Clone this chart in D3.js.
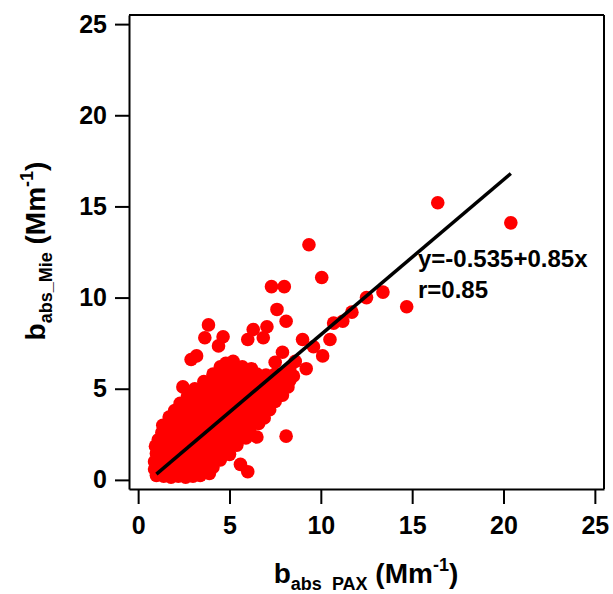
<!DOCTYPE html>
<html>
<head>
<meta charset="utf-8">
<script src="https://cdn.jsdelivr.net/npm/d3@7"></script>
<style>
  body { margin: 0; background: #fff; }
  svg text { font-family: "Liberation Sans", Arial, sans-serif; font-weight: bold; fill: #000; }
</style>
</head>
<body>
<div id="chart"></div>
<script>
// dense cloud of points (b_abs PAX, b_abs Mie)
var cloudPoints = [
    [1.0,0.25],[1.4,0.2],[1.8,0.15],[2.2,0.2],[2.6,0.15],[3.0,0.2],[3.4,0.25],[3.9,0.35],
    [0.9,0.6],[1.3,0.55],[1.7,0.65],[2.1,0.6],[2.5,0.55],[2.9,0.65],[3.3,0.6],[3.7,0.6],[4.1,0.7],
    [0.9,1.0],[1.3,1.05],[1.7,0.95],[2.1,1.0],[2.5,1.05],[2.9,0.95],[3.3,1.0],[3.7,1.05],[4.1,1.0],[4.5,1.1],
    [1.0,1.45],[1.4,1.4],[1.8,1.35],[2.2,1.45],[2.6,1.4],[3.0,1.35],[3.4,1.45],[3.8,1.4],[4.2,1.35],[4.6,1.45],[5.0,1.4],
    [0.95,1.85],[1.4,1.8],[1.8,1.75],[2.2,1.85],[2.6,1.8],[3.0,1.75],[3.4,1.85],[3.8,1.8],[4.2,1.75],[4.6,1.85],[5.0,1.8],[5.4,1.9],
    [1.1,2.2],[1.5,2.25],[1.9,2.15],[2.3,2.2],[2.7,2.25],[3.1,2.15],[3.5,2.2],[3.9,2.25],[4.3,2.15],[4.7,2.2],[5.1,2.25],[5.5,2.2],[5.9,2.3],
    [1.3,2.6],[1.7,2.65],[2.1,2.55],[2.5,2.6],[2.9,2.65],[3.3,2.55],[3.7,2.6],[4.1,2.65],[4.5,2.55],[4.9,2.6],[5.3,2.65],[5.7,2.55],[6.1,2.7],
    [1.35,3.0],[1.8,3.05],[2.2,2.95],[2.6,3.0],[3.0,3.05],[3.4,2.95],[3.8,3.0],[4.2,3.05],[4.6,2.95],[5.0,3.0],[5.4,3.05],[5.8,2.95],[6.2,3.0],[6.6,3.1],
    [1.7,3.45],[2.1,3.4],[2.5,3.35],[2.9,3.45],[3.3,3.4],[3.7,3.35],[4.1,3.45],[4.5,3.4],[4.9,3.35],[5.3,3.45],[5.7,3.4],[6.1,3.35],[6.5,3.45],[6.9,3.4],
    [2.0,3.8],[2.4,3.85],[2.8,3.75],[3.2,3.8],[3.6,3.85],[4.0,3.75],[4.4,3.8],[4.8,3.85],[5.2,3.75],[5.6,3.8],[6.0,3.85],[6.4,3.75],[6.8,3.8],[7.2,3.85],
    [2.3,4.2],[2.7,4.25],[3.1,4.15],[3.5,4.2],[3.9,4.25],[4.3,4.15],[4.7,4.2],[5.1,4.25],[5.5,4.15],[5.9,4.2],[6.3,4.25],[6.7,4.15],[7.1,4.2],[7.5,4.3],
    [2.7,4.6],[3.1,4.65],[3.5,4.55],[3.9,4.6],[4.3,4.65],[4.7,4.55],[5.1,4.6],[5.5,4.65],[5.9,4.55],[6.3,4.6],[6.7,4.65],[7.1,4.55],[7.5,4.6],[7.9,4.65],
    [3.1,5.0],[3.5,5.05],[3.9,4.95],[4.3,5.0],[4.7,5.05],[5.1,4.95],[5.5,5.0],[5.9,5.05],[6.3,4.95],[6.7,5.0],[7.1,5.05],[7.5,4.95],[7.9,5.0],[8.2,5.1],
    [3.6,5.4],[4.0,5.45],[4.4,5.35],[4.8,5.4],[5.2,5.45],[5.6,5.35],[6.0,5.4],[6.4,5.45],[6.8,5.35],[7.2,5.4],[7.6,5.45],[8.0,5.35],[8.3,5.45],
    [4.1,5.8],[4.5,5.85],[4.9,5.75],[5.3,5.8],[5.7,5.85],[6.1,5.75],[6.5,5.8],[7.0,5.75],[7.5,5.8],[8.0,5.85],
    [4.5,6.2],[4.9,6.25],[5.3,6.15],[5.7,6.2],[6.2,6.1],[8.3,6.1]
];

// scattered points away from the main cloud
var outlierPoints = [
    [2.45,5.1],[2.9,6.6],[3.2,6.8],[3.85,8.5],[3.65,7.8],[4.65,7.85],[4.4,7.35],
    [6.0,7.7],[6.3,8.25],[6.85,7.8],[7.05,8.4],[7.3,10.6],[8.0,10.6],[7.6,9.35],[8.1,8.7],
    [9.35,12.9],[10.05,11.1],[16.4,15.2],[20.4,14.1],[14.7,9.5],[13.4,10.3],[12.5,10.0],
    [11.7,9.2],[11.2,8.7],[10.7,8.6],[9.0,7.7],[10.5,7.7],[10.1,6.8],[9.2,6.1],[7.9,7.0],
    [7.5,6.45],[8.5,5.7],[8.6,6.5],[9.6,7.3],[8.1,2.4],[6.5,2.35],[5.6,0.85],[6.0,0.45],
    [4.8,6.4],[5.2,6.5]
];

var xTicks = [0, 5, 10, 15, 20, 25];
var yTicks = [0, 5, 10, 15, 20, 25];

// linear fit y = a + b x
var fitIntercept = -0.535;
var fitSlope = 0.85;
var fitR = 0.85;
var fitRange = [1.0, 20.4];

var width = 613, height = 594;

var svg = d3.select("#chart").append("svg")
    .attr("width", width)
    .attr("height", height);

var x = d3.scaleLinear().domain([-0.5, 25.5]).range([129, 604]);
var y = d3.scaleLinear().domain([-0.5, 25.5]).range([489, 15]);

var allPoints = cloudPoints.concat(outlierPoints);

// points
svg.append("g")
    .selectAll("circle")
    .data(allPoints)
    .enter().append("circle")
    .attr("cx", function(d) { return x(d[0]); })
    .attr("cy", function(d) { return y(d[1]); })
    .attr("r", 6.8)
    .style("fill", "#ff0000");

// fit line
svg.append("line")
    .attr("x1", x(fitRange[0]))
    .attr("y1", y(fitIntercept + fitSlope * fitRange[0]))
    .attr("x2", x(fitRange[1]))
    .attr("y2", y(fitIntercept + fitSlope * fitRange[1]))
    .style("stroke", "#000")
    .style("stroke-width", 3.5);

// frame top and right
svg.append("line")
    .attr("x1", 129).attr("x2", 604).attr("y1", 15).attr("y2", 15)
    .style("stroke", "#000").style("stroke-width", 2);
svg.append("line")
    .attr("x1", 604).attr("x2", 604).attr("y1", 15).attr("y2", 489)
    .style("stroke", "#000").style("stroke-width", 2);

// axes
var xAxis = d3.axisBottom(x).tickValues(xTicks).tickSize(15).tickSizeOuter(0).tickPadding(12);
var yAxis = d3.axisLeft(y).tickValues(yTicks).tickSize(14).tickSizeOuter(0).tickPadding(8);

var gx = svg.append("g").attr("transform", "translate(0,489)").call(xAxis);
var gy = svg.append("g").attr("transform", "translate(129,0)").call(yAxis);

[gx, gy].forEach(function(g) {
    g.selectAll("path, line").style("stroke", "#000").style("stroke-width", 2);
    g.selectAll("text")
        .style("font-size", "25px")
        .style("font-family", "'Liberation Sans', Arial, sans-serif")
        .style("font-weight", "bold")
        .style("fill", "#000");
});

// fit annotation
svg.append("text")
    .attr("x", 418).attr("y", 267)
    .style("font-size", "24px")
    .text("y=" + fitIntercept + "+" + fitSlope + "x");
svg.append("text")
    .attr("x", 418).attr("y", 298)
    .style("font-size", "24px")
    .text("r=" + fitR);

// axis titles
function title(g, sub) {
    g.append("tspan").style("font-size", "28px").text("b");
    g.append("tspan").style("font-size", "18px").attr("dy", 7).text(sub);
    g.append("tspan").style("font-size", "28px").attr("dy", -7).text("\u00a0(Mm");
    g.append("tspan").style("font-size", "18px").attr("dy", -12).text("-1");
    g.append("tspan").style("font-size", "28px").attr("dy", 12).text(")");
}

var xt = svg.append("text")
    .attr("x", 366).attr("y", 583)
    .style("text-anchor", "middle");
title(xt, "abs\u00a0\u00a0PAX");

var yt = svg.append("text")
    .attr("transform", "translate(45,251) rotate(-90)")
    .style("text-anchor", "middle");
title(yt, "abs_Mie");
</script>
</body>
</html>
